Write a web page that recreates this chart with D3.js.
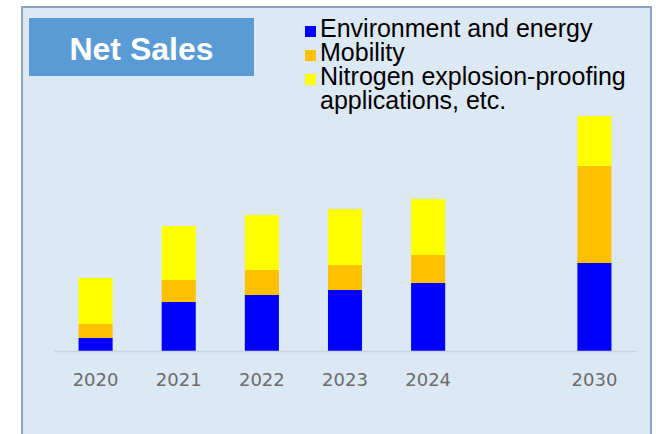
<!DOCTYPE html>
<html lang="en">
  <head>
    <meta charset="utf-8">
    <title>Net Sales</title>
    <style>
      body { margin: 0; background: #fff; }
      svg { display: block; }
    </style>
  </head>
  <body>
    <svg width="656" height="434"></svg>
    <script src="https://d3js.org/d3.v7.min.js"></script>
    <script>
      // years, with an empty slot between 2024 and 2030
      var slots = ["2020", "2021", "2022", "2023", "2024", "gap", "2030"];
      var years = ["2020", "2021", "2022", "2023", "2024", "2030"];
      var envEnergy = [13, 49, 56, 61, 68, 88];
      var mobility = [14, 22, 25, 25, 28, 97];
      var nitrogen = [46, 54, 55, 56, 56, 50];
      var seriesNames = ["Environment and energy", "Mobility", "Nitrogen explosion-proofing", "applications, etc."];
      var colors = ["#0000ff", "#ffc000", "#ffff00"];

      var svg = d3.select("svg");

      // panel
      svg.append("rect")
        .attr("x", 22).attr("y", 7)
        .attr("width", 629).attr("height", 440)
        .attr("fill", "#dde8f5")
        .attr("stroke", "#8da3c6")
        .attr("stroke-width", 2);

      // title box
      svg.append("rect")
        .attr("x", 29).attr("y", 18)
        .attr("width", 225).attr("height", 58)
        .attr("fill", "#5b9bd5");
      svg.append("text")
        .attr("x", 141.5).attr("y", 60)
        .attr("text-anchor", "middle")
        .attr("fill", "#fff")
        .style("font", "bold 32px 'Liberation Sans', Arial, sans-serif")
        .text("Net Sales");

      var x = d3.scaleBand()
        .domain(slots)
        .range([54, 636])
        .paddingInner(0.59)
        .paddingOuter(0.295);

      var y = d3.scaleLinear().domain([0, 250]).range([351, 101]);

      var table = years.map((yr, i) => ({
        year: yr, env: envEnergy[i], mob: mobility[i], nit: nitrogen[i]
      }));
      var stack = d3.stack().keys(["env", "mob", "nit"])(table);

      svg.append("g")
        .selectAll("g")
        .data(stack)
        .enter()
        .append("g")
        .attr("fill", (d, i) => colors[i])
        .selectAll("rect")
        .data(d => d)
        .enter()
        .append("rect")
        .attr("x", d => x(d.data.year))
        .attr("width", x.bandwidth())
        .attr("y", d => y(d[1]))
        .attr("height", d => y(d[0]) - y(d[1]));

      // baseline + year labels
      var axis = svg.append("g")
        .attr("transform", "translate(0,351)")
        .call(d3.axisBottom(x).tickValues(years).tickSize(0).tickPadding(22));
      axis.select(".domain").attr("stroke", "#c9d2dd").attr("stroke-width", 1.5);
      axis.selectAll("text")
        .attr("fill", "#6b6b6b")
        .style("font-family", "'DejaVu Sans', Verdana, sans-serif")
        .style("font-size", "18px");

      // legend
      var legend = svg.append("g").attr("transform", "translate(305,0)");
      var lineY = [37, 61, 85, 109];
      seriesNames.forEach((name, i) => {
        if (i < 3) {
          legend.append("rect")
            .attr("x", 0).attr("y", lineY[i] - 11)
            .attr("width", 11).attr("height", 11)
            .attr("fill", colors[i]);
        }
        legend.append("text")
          .attr("x", 15).attr("y", lineY[i])
          .attr("fill", "#000")
          .style("font", "25px 'Liberation Sans', Arial, sans-serif")
          .text(name);
      });
    </script>
  </body>
</html>
